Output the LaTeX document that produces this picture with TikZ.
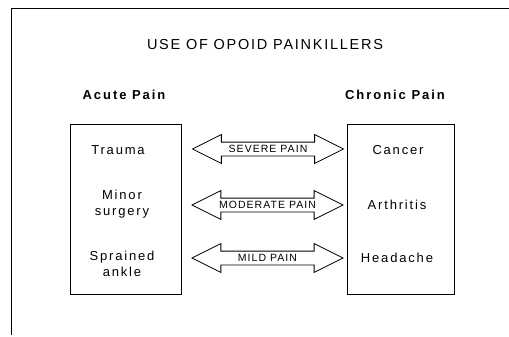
\documentclass[tikz,border=0pt]{standalone}
\usepackage{fontspec}
\setmainfont{Liberation Sans}
\usepackage{tikz}
\usetikzlibrary{shapes.arrows}

\begin{document}
\begin{tikzpicture}[x=1pt, y=-1pt,
    title/.style={font=\fontsize{14.5}{16}\selectfont\addfontfeatures{LetterSpace=12}},
    head/.style={font=\fontsize{13}{15}\selectfont\bfseries\addfontfeatures{LetterSpace=15}},
    item/.style={font=\fontsize{13}{15.5}\selectfont\addfontfeatures{LetterSpace=14}, align=center},
    panel/.style={draw, line width=0.8pt, minimum height=170pt},
    pain/.style={draw, line width=0.8pt, double arrow, double arrow head extend=7.5pt,
      double arrow tip angle=53, minimum height=151pt, inner xsep=0pt, inner ysep=2.75pt,
      text height=7.5pt, text depth=0pt,
      font=\fontsize{10.5}{12}\selectfont\addfontfeatures{LetterSpace=10}},
  ]
    \useasboundingbox (0,0) rectangle (509,337);
    % outer frame, open at right and bottom
    \draw[line width=0.8pt] (11,335) -- (11,8) -- (509,8);

    \node[title] (heading) at (265,45) {USE OF OPOID PAINKILLERS};
    \node[head] (acute) at (124,95) {Acute Pain};
    \node[head] (chronic) at (395,95) {Chronic Pain};

    \node[panel, minimum width=111pt] (acutebox) at (125.5,209) {};
    \node[panel, minimum width=107pt] (chronicbox) at (400.5,209) {};

    \node[item] (trauma) at (118,150) {Trauma};
    \node[item] (minor) at (122,204) {Minor\\surgery};
    \node[item] (ankle) at (122,264) {Sprained\\ankle};
    \node[item] (cancer) at (398,150) {Cancer};
    \node[item] (arthritis) at (397,205) {Arthritis};
    \node[item] (headache) at (397,258) {Headache};

    \node[pain] (severe) at (268,149) {SEVERE PAIN};
    \node[pain] (moderate) at (267.5,205) {MODERATE PAIN};
    \node[pain] (mild) at (267.5,258) {MILD PAIN};
  \end{tikzpicture}
\end{document}
